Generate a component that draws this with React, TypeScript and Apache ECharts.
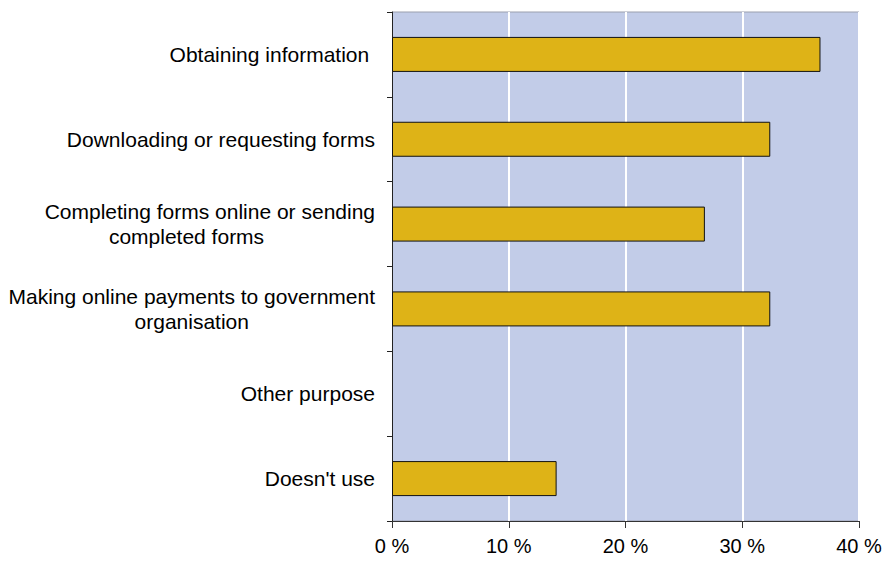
import React, { useEffect, useRef } from "react";
import * as echarts from "echarts";

const categories = [
  "Obtaining information ",
  "Downloading or requesting forms",
  "Completing forms online or sending\ncompleted forms        ",
  "Making online payments to government\norganisation",
  "Other purpose",
  "Doesn't use",
];
const values = [36.7, 32.4, 26.8, 32.4, 0, 14.1];
const xTicks = { min: 0, max: 40, interval: 10 };

const FONT = "'Liberation Sans', Arial, sans-serif";

export default function App() {
  const ref = useRef<HTMLDivElement>(null);
  useEffect(() => {
    const chart = echarts.init(ref.current!, null, { renderer: "svg" });
    chart.setOption({
      animation: false,
      backgroundColor: "#ffffff",
      textStyle: { fontFamily: FONT },
      grid: {
        left: 392,
        right: 26,
        top: 12,
        bottom: 41,
        show: true,
        backgroundColor: "#C2CCE8",
        borderColor: "#9a9fae",
        borderWidth: 1,
      },
      xAxis: {
        type: "value",
        min: xTicks.min,
        max: xTicks.max,
        interval: xTicks.interval,
        axisLine: { show: true, lineStyle: { color: "#333", width: 1 } },
        axisTick: { show: true, length: 7, lineStyle: { color: "#333" } },
        splitLine: { show: true, lineStyle: { color: "#ffffff", width: 2 } },
        axisLabel: {
          formatter: "{value} %",
          fontSize: 20,
          color: "#000",
          margin: 15,
          fontFamily: FONT,
        },
      },
      yAxis: {
        type: "category",
        inverse: true,
        data: categories,
        axisLine: { show: true, lineStyle: { color: "#222", width: 1 } },
        axisTick: { show: true, length: 5, alignWithLabel: false, lineStyle: { color: "#222" } },
        splitLine: { show: false },
        axisLabel: {
          margin: 17,
          interval: 0,
          formatter: (v: string) =>
            v
              .split("\n")
              .map((l) => `{c|${l}}`)
              .join("\n"),
          rich: {
            c: {
              align: "center",
              fontSize: 21,
              lineHeight: 25,
              color: "#000",
              fontFamily: FONT,
            },
          },
        },
      },
      series: [
        {
          type: "bar",
          barWidth: 35,
          data: values.map((v) =>
            v === 0 ? { value: v, itemStyle: { borderWidth: 0 } } : v
          ),
          itemStyle: {
            color: "#DEB317",
            borderColor: "#111",
            borderWidth: 1,
          },
        },
      ],
    });
    return () => chart.dispose();
  }, []);
  return (
    <div
      ref={ref}
      style={{ position: "fixed", left: 0, top: 0, width: 885, height: 562 }}
    />
  );
}
